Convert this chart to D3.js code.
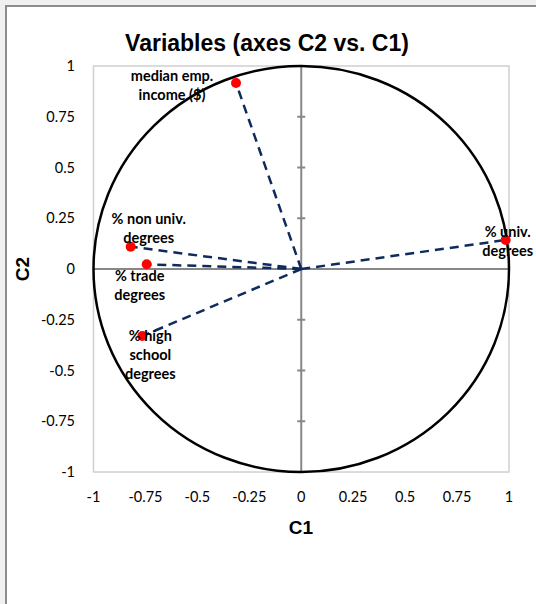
<!DOCTYPE html>
<html>
<head>
<meta charset="utf-8">
<script src="https://cdn.jsdelivr.net/npm/d3@7"></script>
<style>
  body { margin: 0; background: #f0f0f0; }
  svg { display: block; }
</style>
</head>
<body>
<div id="chart"></div>
<script>
// variable coordinates on the first two components
var varNames = ["median emp. income ($)", "% non univ. degrees", "% trade degrees", "% high school degrees", "% univ. degrees"];
var c1Values = [-0.314, -0.821, -0.744, -0.765, 0.984];
var c2Values = [0.916, 0.110, 0.023, -0.330, 0.143];
// label lines as drawn in the picture
var labelLines = [["median emp.", "income ($)"], ["% non univ.", "degrees"], ["% trade", "degrees"], ["% high", "school", "degrees"], ["% univ.", "degrees"]];
var tickValues = [-1, -0.75, -0.5, -0.25, 0, 0.25, 0.5, 0.75, 1];

var W = 536, H = 604;
var plot = {left: 93.5, right: 509, top: 66, bottom: 472};

var svg = d3.select("#chart").append("svg")
    .attr("width", W)
    .attr("height", H);

// chart box
svg.append("rect")
    .attr("x", 6).attr("y", 6)
    .attr("width", W + 10).attr("height", H + 10)
    .attr("fill", "#fff")
    .attr("stroke", "#8c8c8c")
    .attr("stroke-width", 2);

var x = d3.scaleLinear().domain([-1, 1]).range([plot.left, plot.right]);
var y = d3.scaleLinear().domain([-1, 1]).range([plot.bottom, plot.top]);

// plot area border
svg.append("rect")
    .attr("x", x(-1)).attr("y", y(1))
    .attr("width", x(1) - x(-1)).attr("height", y(-1) - y(1))
    .attr("fill", "none")
    .attr("stroke", "#d0d0d0")
    .attr("stroke-width", 1.5);

// center axes
svg.append("line")
    .attr("x1", x(-1)).attr("x2", x(1))
    .attr("y1", y(0)).attr("y2", y(0))
    .attr("stroke", "#878787").attr("stroke-width", 2);
svg.append("line")
    .attr("x1", x(0)).attr("x2", x(0))
    .attr("y1", y(-1)).attr("y2", y(1))
    .attr("stroke", "#878787").attr("stroke-width", 2);

// small cross ticks on the vertical axis
svg.selectAll("line.ytick")
    .data(tickValues)
    .enter()
    .append("line")
    .attr("class", "ytick")
    .attr("x1", x(0) - 4).attr("x2", x(0) + 4)
    .attr("y1", function (d) { return y(d); })
    .attr("y2", function (d) { return y(d); })
    .attr("stroke", "#878787").attr("stroke-width", 2);

// tick labels (plain hyphen like the original)
var tickFormat = function (d) { return String(d); };
svg.selectAll("text.ylab")
    .data(tickValues)
    .enter()
    .append("text")
    .attr("class", "ylab")
    .attr("x", 75)
    .attr("y", function (d) { return y(d); })
    .attr("dy", "0.35em")
    .attr("text-anchor", "end")
    .style("font-family", "Lato, 'Open Sans', sans-serif")
    .style("font-size", "14.5px")
    .text(tickFormat);

svg.selectAll("text.xlab")
    .data(tickValues)
    .enter()
    .append("text")
    .attr("class", "xlab")
    .attr("x", function (d) { return x(d); })
    .attr("y", 497)
    .attr("dy", "0.35em")
    .attr("text-anchor", "middle")
    .style("font-family", "Lato, 'Open Sans', sans-serif")
    .style("font-size", "14.5px")
    .text(tickFormat);

// correlation circle
svg.append("ellipse")
    .attr("cx", x(0)).attr("cy", y(0))
    .attr("rx", x(1) - x(0)).attr("ry", y(0) - y(1))
    .attr("fill", "none")
    .attr("stroke", "#000")
    .attr("stroke-width", 2.5);

var data = varNames.map(function (n, i) {
    return {name: n, c1: c1Values[i], c2: c2Values[i], lines: labelLines[i]};
});

// dashed vectors from origin
svg.selectAll("line.vec")
    .data(data)
    .enter()
    .append("line")
    .attr("class", "vec")
    .attr("x1", x(0)).attr("y1", y(0))
    .attr("x2", function (d) { return x(d.c1); })
    .attr("y2", function (d) { return y(d.c2); })
    .attr("stroke", "#0f2a5c")
    .attr("stroke-width", 2.5)
    .attr("stroke-dasharray", "9,6");

svg.selectAll("circle.pt")
    .data(data)
    .enter()
    .append("circle")
    .attr("class", "pt")
    .attr("cx", function (d) { return x(d.c1); })
    .attr("cy", function (d) { return y(d.c2); })
    .attr("r", 5)
    .attr("fill", "#ff0000");

// point labels (offsets in px relative to the point)
var labelOffsets = [[-64, -7], [18, -28], [-7, 12], [8, 0], [2, -8]];
var labels = svg.selectAll("text.ptlab")
    .data(data)
    .enter()
    .append("text")
    .attr("class", "ptlab")
    .attr("text-anchor", "middle")
    .style("font-family", "Lato, 'Open Sans', sans-serif")
    .style("font-size", "14.5px")
    .style("font-weight", "bold")
    .attr("transform", function (d, i) {
        return "translate(" + (x(d.c1) + labelOffsets[i][0]) + "," + (y(d.c2) + labelOffsets[i][1]) + ")";
    });

labels.selectAll("tspan")
    .data(function (d) { return d.lines; })
    .enter()
    .append("tspan")
    .attr("x", 0)
    .attr("y", function (d, j) { return j * 19; })
    .attr("dy", "0.35em")
    .text(function (d) { return d; });

// titles
svg.append("text")
    .attr("x", 267).attr("y", 43)
    .attr("dy", "0.35em")
    .attr("text-anchor", "middle")
    .style("font-family", "'Liberation Sans', Arial, sans-serif")
    .style("font-size", "23px")
    .style("font-weight", "bold")
    .text("Variables (axes C2 vs. C1)");

svg.append("text")
    .attr("x", 301).attr("y", 527)
    .attr("dy", "0.35em")
    .attr("text-anchor", "middle")
    .style("font-family", "'Liberation Sans', Arial, sans-serif")
    .style("font-size", "19px")
    .style("font-weight", "bold")
    .text("C1");

svg.append("text")
    .attr("transform", "translate(22," + y(0) + ") rotate(-90)")
    .attr("dy", "0.35em")
    .attr("text-anchor", "middle")
    .style("font-family", "'Liberation Sans', Arial, sans-serif")
    .style("font-size", "19px")
    .style("font-weight", "bold")
    .text("C2");
</script>
</body>
</html>
